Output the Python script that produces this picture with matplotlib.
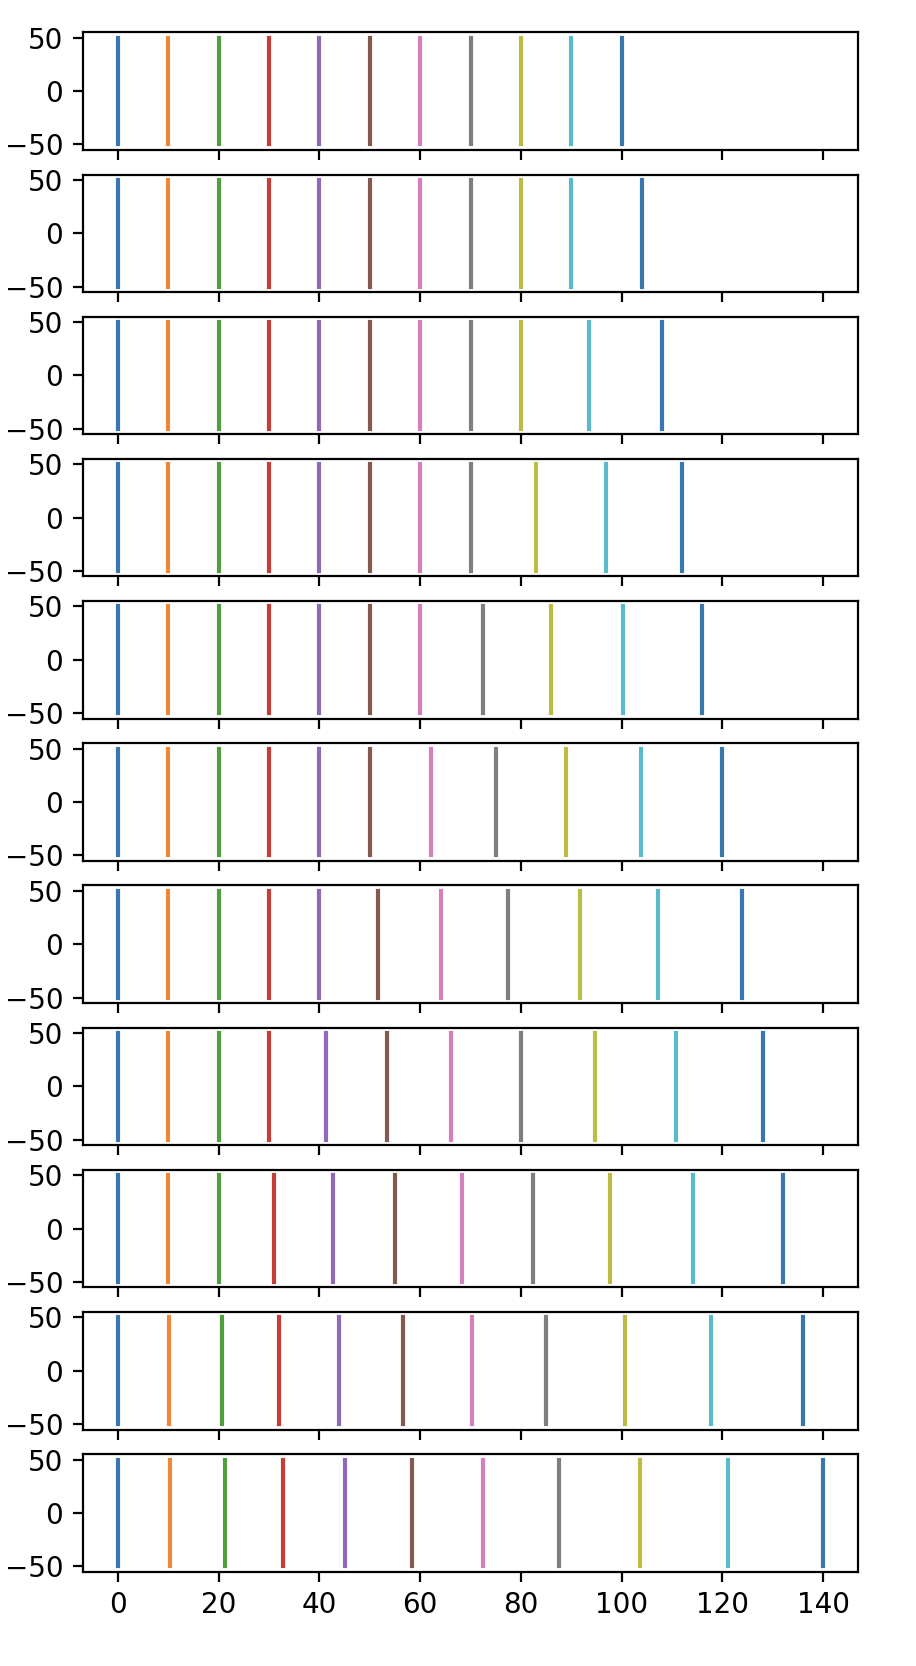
import matplotlib
matplotlib.use("Agg")
import matplotlib.pyplot as plt

# x-positions of the vertical lines, one list per panel (top to bottom)
row0 = [0, 10, 20, 30, 40, 50, 60, 70, 80, 90, 100]
row1 = [0, 10, 20, 30, 40, 50, 60, 70, 80, 90, 104]
row2 = [0, 10, 20, 30, 40, 50, 60, 70, 80, 93.5, 108]
row3 = [0, 10, 20, 30, 40, 50, 60, 70, 83, 97, 112]
row4 = [0, 10, 20, 30, 40, 50, 60, 72.4, 86, 100.3, 116]
row5 = [0, 10, 20, 30, 40, 50, 62.1, 75.1, 88.9, 103.8, 120]
row6 = [0, 10, 20, 30, 40, 51.6, 64.2, 77.5, 91.7, 107.2, 124]
row7 = [0, 10, 20, 30, 41.3, 53.4, 66.2, 80, 94.7, 110.8, 128]
row8 = [0, 10, 20, 30.9, 42.6, 55, 68.3, 82.4, 97.6, 114.1, 132]
row9 = [0, 10.1, 20.6, 32, 43.9, 56.6, 70.3, 85, 100.6, 117.7, 136]
row10 = [0, 10.4, 21.3, 32.8, 45.1, 58.4, 72.5, 87.6, 103.7, 121.2, 140]
rows = [row0, row1, row2, row3, row4, row5, row6, row7, row8, row9, row10]

y_low = -50
y_high = 50

palette = ["#3a76b0", "#ef8736", "#519e3e", "#c53d35", "#8d6bb8",
           "#845a50", "#d57fbd", "#7f7f7f", "#bcbc44", "#58bbcc"]
plt.rcParams["axes.prop_cycle"] = matplotlib.cycler(color=palette)

fig, axes = plt.subplots(len(rows), 1, sharex=True, figsize=(4.58, 8.33), dpi=200)
fig.subplots_adjust(left=0.0903, right=0.937, top=0.9806, bottom=0.0566, hspace=0.211)

for ax, xs in zip(axes, rows):
    for x in xs:
        ax.plot([x, x], [y_low, y_high])

fig.savefig("out.png", dpi=200)
